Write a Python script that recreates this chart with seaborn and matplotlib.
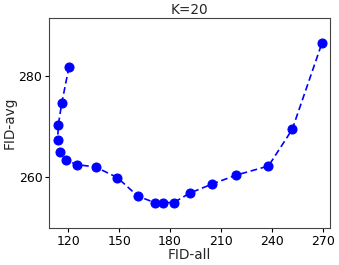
import matplotlib
matplotlib.use("Agg")
import matplotlib.pyplot as plt
import seaborn as sns
import pandas as pd

# FID-all / FID-avg pairs, in drawing order
fid_all = [120.4, 116.1, 114.1, 113.7, 114.9, 118.5, 124.9, 136.1, 148.9, 160.9,
           170.9, 176.0, 182.2, 191.6, 204.8, 219.1, 238.0, 252.0, 269.5]
fid_avg = [281.9, 274.6, 270.3, 267.2, 264.9, 263.3, 262.4, 261.9, 259.8, 256.1,
           254.8, 254.8, 254.8, 256.7, 258.5, 260.3, 262.1, 269.4, 286.6]
x_ticks = [120, 150, 180, 210, 240, 270]
y_ticks = [260, 280]

sns.set_style("ticks")
plt.rcParams['font.family'] = ['DejaVu Sans']

df = pd.DataFrame({"FID-all": fid_all, "FID-avg": fid_avg})

fig = plt.figure(figsize=(3.39, 2.65), dpi=100)
ax = fig.add_axes([0.1455, 0.141, 0.828, 0.79])

sns.lineplot(data=df, x="FID-all", y="FID-avg", sort=False, estimator=None,
             color="blue", linestyle="--", linewidth=1.2, dashes=False,
             marker="o", markersize=6.5, markeredgecolor="blue", ax=ax)
ax.lines[0].set_dashes([4, 2.2])

ax.set_xlim(108.8, 274.3)
ax.set_ylim(249.8, 291.6)
ax.set_xticks(x_ticks)
ax.set_yticks(y_ticks)
ax.tick_params(labelsize=9, length=3, width=0.8, colors="black", pad=2)
ax.set_xlabel("FID-all", fontsize=9.8, labelpad=0)
ax.set_ylabel("FID-avg", fontsize=9.8)
ax.yaxis.set_label_coords(-0.118, 0.5)
ax.set_title("K=20", fontsize=9.8, pad=3)
for s in ax.spines.values():
    s.set_color("#444444")
    s.set_linewidth(0.8)

fig.savefig("out.png", dpi=100)
